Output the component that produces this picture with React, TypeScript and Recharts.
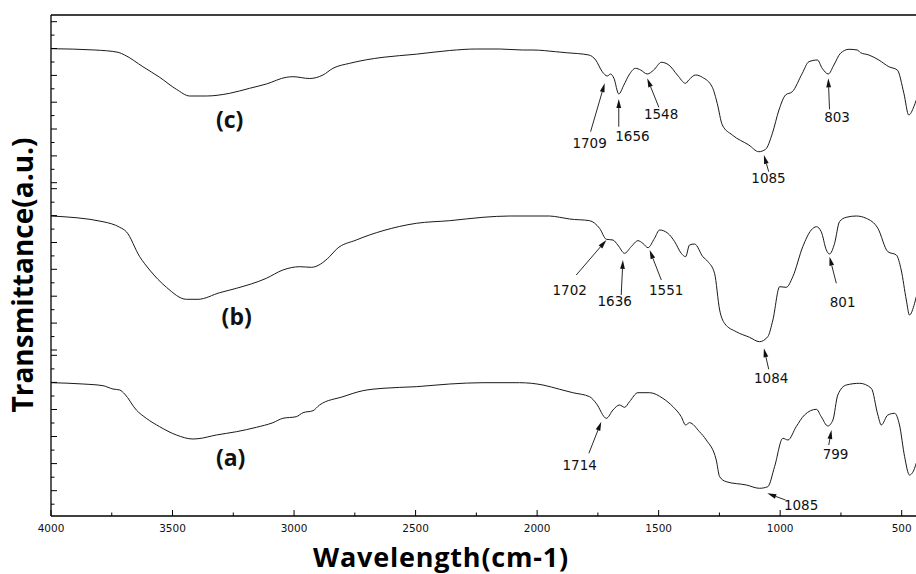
import { LineChart, Line, XAxis, YAxis, ReferenceLine, ReferenceDot } from "recharts";

// FTIR spectra: [wavenumber, transmittance (a.u., curves offset)]
const curveA: [number, number][] = [
  [4000, 26.66], [3868, 26.4], [3786, 26.06], [3745, 25.4], [3717, 25.2], [3697, 24.4], [3649, 21.2],
  [3608, 19.54], [3553, 17.86], [3484, 16.2], [3416, 15.4], [3395, 15.46], [3320, 16.2], [3237, 16.86],
  [3155, 17.74], [3087, 18.66], [3046, 19.54], [2991, 19.86], [2963, 20.66], [2922, 21.06], [2895, 22.2],
  [2799, 23.86], [2717, 25.06], [2634, 25.54], [2497, 25.86], [2360, 26.4], [2223, 26.66], [2072, 26.66],
  [1976, 26.2], [1907, 25.34], [1853, 24.66], [1784, 23.86], [1757, 22.54], [1715, 19.54], [1688, 21.2],
  [1661, 22.2], [1640, 21.74], [1620, 22.86], [1585, 24.66], [1537, 24.66], [1483, 23.54], [1441, 21.86],
  [1407, 19.86], [1389, 18.2], [1373, 18.66], [1332, 16.86], [1304, 15.2], [1263, 11.2], [1249, 7.86],
  [1222, 6.86], [1139, 6.2], [1085, 5.54], [1051, 5.86], [1023, 9.86], [989, 15.54], [968, 15.2],
  [934, 17.86], [900, 20.2], [851, 21.34], [831, 19.86], [804, 18.0], [783, 19.2], [763, 24.2],
  [728, 26.2], [673, 26.54], [625, 25.54], [598, 20.2], [584, 18.2], [557, 20.2], [529, 20.54],
  [509, 18.2], [488, 11.86], [468, 8.2], [447, 9.54], [440, 10.6],
];

const curveB: [number, number][] = [
  [4000, 60.0], [3786, 58.86], [3717, 57.74], [3690, 56.86], [3635, 51.86], [3594, 49.2], [3525, 45.74],
  [3443, 43.34], [3395, 43.34], [3306, 44.66], [3237, 45.54], [3114, 47.54], [3046, 49.2], [2977, 49.86],
  [2929, 49.74], [2854, 51.86], [2826, 53.34], [2744, 55.2], [2634, 57.06], [2497, 58.54], [2360, 59.06],
  [2223, 59.74], [2113, 60.0], [1949, 60.0], [1907, 59.74], [1866, 59.4], [1784, 59.06], [1743, 57.54],
  [1715, 55.34], [1688, 55.2], [1668, 54.2], [1640, 52.54], [1613, 53.86], [1585, 55.06], [1565, 54.54],
  [1544, 53.66], [1517, 55.54], [1496, 57.2], [1462, 56.54], [1434, 54.86], [1407, 52.54], [1389, 51.86],
  [1373, 54.2], [1352, 54.4], [1318, 51.86], [1297, 50.86], [1270, 48.54], [1249, 41.2], [1229, 38.54],
  [1181, 36.86], [1126, 35.74], [1085, 34.86], [1051, 35.86], [1030, 39.2], [1002, 45.86], [975, 45.74],
  [948, 47.86], [907, 53.86], [872, 57.2], [851, 57.86], [831, 56.86], [810, 53.2], [797, 52.4],
  [776, 54.54], [756, 58.86], [728, 59.74], [687, 60.0], [646, 59.54], [598, 57.54], [557, 52.86],
  [522, 52.2], [502, 49.2], [481, 43.2], [468, 40.2], [447, 42.54], [440, 43.86],
];

const curveC: [number, number][] = [
  [4000, 93.46], [3820, 93.2], [3724, 92.74], [3697, 92.2], [3622, 89.86], [3553, 87.74], [3484, 85.34],
  [3429, 84.0], [3361, 84.0], [3265, 84.54], [3183, 85.54], [3114, 86.4], [3032, 87.74], [3005, 87.86],
  [2936, 87.5], [2881, 88.2], [2840, 89.54], [2771, 90.54], [2703, 91.24], [2634, 91.74], [2497, 92.36],
  [2360, 93.1], [2250, 93.4], [2154, 93.4], [2061, 93.2], [2017, 93.2], [1924, 92.86], [1880, 92.66],
  [1787, 92.2], [1759, 91.2], [1732, 88.86], [1711, 88.0], [1698, 88.4], [1684, 87.54], [1664, 84.4],
  [1643, 86.2], [1622, 88.2], [1595, 89.54], [1574, 89.2], [1547, 88.4], [1520, 89.2], [1489, 90.74],
  [1458, 90.2], [1423, 88.2], [1389, 86.54], [1376, 87.2], [1348, 88.2], [1320, 87.74], [1279, 85.74],
  [1259, 82.54], [1238, 78.2], [1197, 76.2], [1129, 74.2], [1088, 72.86], [1060, 73.34], [1032, 76.54],
  [1005, 81.2], [978, 84.2], [950, 84.86], [909, 88.54], [882, 90.86], [847, 91.2], [827, 89.54],
  [802, 88.4], [779, 90.2], [752, 92.54], [717, 93.34], [683, 93.2], [669, 92.66], [635, 92.2],
  [594, 91.2], [553, 89.86], [518, 89.2], [491, 84.54], [471, 80.2], [450, 81.86], [440, 83.2],
];

// peak annotations: text, label anchor, arrow tail, arrow tip (data units)
const peaks = [
  { text: "1709", at: [1784, 74.6], from: [1780, 76.86], to: [1722, 86.54] },
  { text: "1656", at: [1608, 76.0], from: [1664, 77.86], to: [1664, 83.4] },
  { text: "1548", at: [1490, 80.4], from: [1499, 81.74], to: [1547, 87.54] },
  { text: "1085", at: [1048, 67.54], from: [1047, 68.86], to: [1067, 72.2] },
  { text: "803", at: [766, 79.7], from: [797, 81.34], to: [802, 87.54] },
  { text: "1702", at: [1866, 45.2], from: [1839, 48.2], to: [1715, 55.2] },
  { text: "1636", at: [1681, 43.06], from: [1654, 44.2], to: [1647, 51.2] },
  { text: "1551", at: [1469, 45.2], from: [1489, 47.2], to: [1537, 53.2] },
  { text: "801", at: [743, 42.86], from: [769, 46.54], to: [797, 51.86] },
  { text: "1084", at: [1037, 27.66], from: [1047, 29.34], to: [1067, 33.54] },
  { text: "1714", at: [1825, 10.14], from: [1787, 12.54], to: [1736, 18.86] },
  { text: "799", at: [772, 12.46], from: [800, 14.2], to: [789, 17.2] },
  { text: "1085", at: [914, 2.14], from: [978, 3.2], to: [1053, 4.54] },
];

const samples = [
  { text: "(a)", at: [3261, 11.6] },
  { text: "(b)", at: [3236, 39.86] },
  { text: "(c)", at: [3265, 79.2] },
];

const xMajor = [4000, 3500, 3000, 2500, 2000, 1500, 1000, 500];
const xMinor = [3750, 3250, 2750, 2250, 1750, 1250, 750];
const yMajor = [
  98.86, 93.5, 88.12, 82.76, 77.4, 72.02, 66.66,
  65.46, 60.08, 54.7, 49.34, 43.96, 38.58, 33.2,
  32.14, 26.72, 21.3, 15.9, 10.48, 5.06,
];
const yMinor = [
  96.18, 90.8, 85.44, 80.08, 74.7, 69.34,
  62.76, 57.38, 52.02, 46.64, 41.26, 35.88,
  29.42, 24.0, 18.6, 13.18, 7.76, 2.36,
];

const toRows = (c: [number, number][]) => c.map(([w, t]) => ({ w, t }));

const INK = "#111";

const BottomTick = (p: any) => {
  const v = p.payload.value;
  const major = xMajor.includes(v);
  return (
    <g>
      <line x1={p.x} y1={p.y} x2={p.x} y2={p.y - (major ? 6 : 3.5)} stroke="#000" strokeWidth={1} />
      {major && (
        <text x={p.x} y={p.y + 16} textAnchor="middle" fontSize={10.5} fontFamily="DejaVu Sans" fill="#111">
          {v}
        </text>
      )}
    </g>
  );
};

const TopTick = (p: any) => {
  const major = xMajor.includes(p.payload.value);
  return <line x1={p.x} y1={p.y} x2={p.x} y2={p.y + (major ? 7 : 4)} stroke="#000" strokeWidth={1} />;
};

const LeftTick = (p: any) => {
  const major = yMajor.includes(p.payload.value);
  return <line x1={p.x} y1={p.y} x2={p.x + (major ? 6 : 3.5)} y2={p.y} stroke="#000" strokeWidth={1} />;
};

const Arrow = (p: any) => {
  const { x1, y1, x2, y2 } = p;
  const a = Math.atan2(y2 - y1, x2 - x1);
  const len = 9;
  const half = 2.4;
  const bx = x2 - len * Math.cos(a);
  const by = y2 - len * Math.sin(a);
  const nx = -Math.sin(a) * half;
  const ny = Math.cos(a) * half;
  return (
    <g>
      <line x1={x1} y1={y1} x2={bx} y2={by} stroke={INK} strokeWidth={0.9} />
      <polygon points={`${x2},${y2} ${bx + nx},${by + ny} ${bx - nx},${by - ny}`} fill={INK} />
    </g>
  );
};

export default function App() {
  return (
    <div style={{ position: "absolute", left: 0, top: 0, width: 916, height: 574, overflow: "hidden", background: "#fff" }}>
      <LineChart width={939} height={574} margin={{ top: 0, right: 13, bottom: 0, left: 0 }}>
        <XAxis
          dataKey="w"
          type="number"
          domain={[400, 4000]}
          reversed
          ticks={[...xMajor, ...xMinor]}
          interval={0}
          height={58}
          tickSize={0}
          tickMargin={0}
          tickLine={false}
          tick={<BottomTick />}
          axisLine={{ stroke: "#000", strokeWidth: 1.3 }}
          allowDataOverflow
          label={{
            position: "insideBottom",
            content: () => (
              <text
                x={441}
                y={567}
                textAnchor="middle"
                fontSize={27}
                fontWeight={700}
                letterSpacing={0.8}
                fontFamily="Open Sans"
                fill="#000"
              >
                Wavelength(cm-1)
              </text>
            ),
          }}
        />
        <XAxis
          xAxisId="top"
          orientation="top"
          type="number"
          domain={[400, 4000]}
          reversed
          ticks={[...xMajor, ...xMinor]}
          interval={0}
          height={15}
          tickSize={0}
          tickMargin={0}
          tickLine={false}
          tick={<TopTick />}
          axisLine={{ stroke: "#000", strokeWidth: 1.3 }}
          allowDataOverflow
        />
        <YAxis
          type="number"
          domain={[0, 100.2]}
          width={51}
          ticks={[...yMajor, ...yMinor]}
          interval={0}
          tickSize={0}
          tickMargin={0}
          tickLine={false}
          tick={<LeftTick />}
          axisLine={{ stroke: "#000", strokeWidth: 1.3 }}
          allowDataOverflow
          label={{
            position: "center",
            content: () => (
              <text
                x={33}
                y={275}
                transform="rotate(-90, 33, 275)"
                textAnchor="middle"
                fontSize={28}
                fontWeight={700}
                fontFamily="Open Sans"
                fill="#000"
              >
                Transmittance(a.u.)
              </text>
            ),
          }}
        />
        <Line data={toRows(curveA)} dataKey="t" type="monotone" stroke="#1a1a1a" strokeWidth={1} dot={false} isAnimationActive={false} />
        <Line data={toRows(curveB)} dataKey="t" type="monotone" stroke="#1a1a1a" strokeWidth={1} dot={false} isAnimationActive={false} />
        <Line data={toRows(curveC)} dataKey="t" type="monotone" stroke="#1a1a1a" strokeWidth={1} dot={false} isAnimationActive={false} />
        {peaks.map((pk, i) => (
          <ReferenceLine
            key={`ar-${i}`}
            segment={[{ x: pk.from[0], y: pk.from[1] }, { x: pk.to[0], y: pk.to[1] }]}
            shape={<Arrow />}
          />
        ))}
        {peaks.map((pk, i) => (
          <ReferenceDot
            key={`lb-${i}`}
            x={pk.at[0]}
            y={pk.at[1]}
            r={1}
            shape={(sp: any) => (
              <text x={sp.cx} y={sp.cy} dy="0.36em" textAnchor="middle" fontSize={13.5} fontFamily="DejaVu Sans" fill="#111">
                {pk.text}
              </text>
            )}
          />
        ))}
        {samples.map((s, i) => (
          <ReferenceDot
            key={`s-${i}`}
            x={s.at[0]}
            y={s.at[1]}
            r={1}
            shape={(sp: any) => (
              <text x={sp.cx} y={sp.cy} dy="0.36em" textAnchor="middle" fontSize={23} fontWeight={700} fontFamily="Open Sans" fill="#111">
                {s.text}
              </text>
            )}
          />
        ))}
      </LineChart>
    </div>
  );
}
